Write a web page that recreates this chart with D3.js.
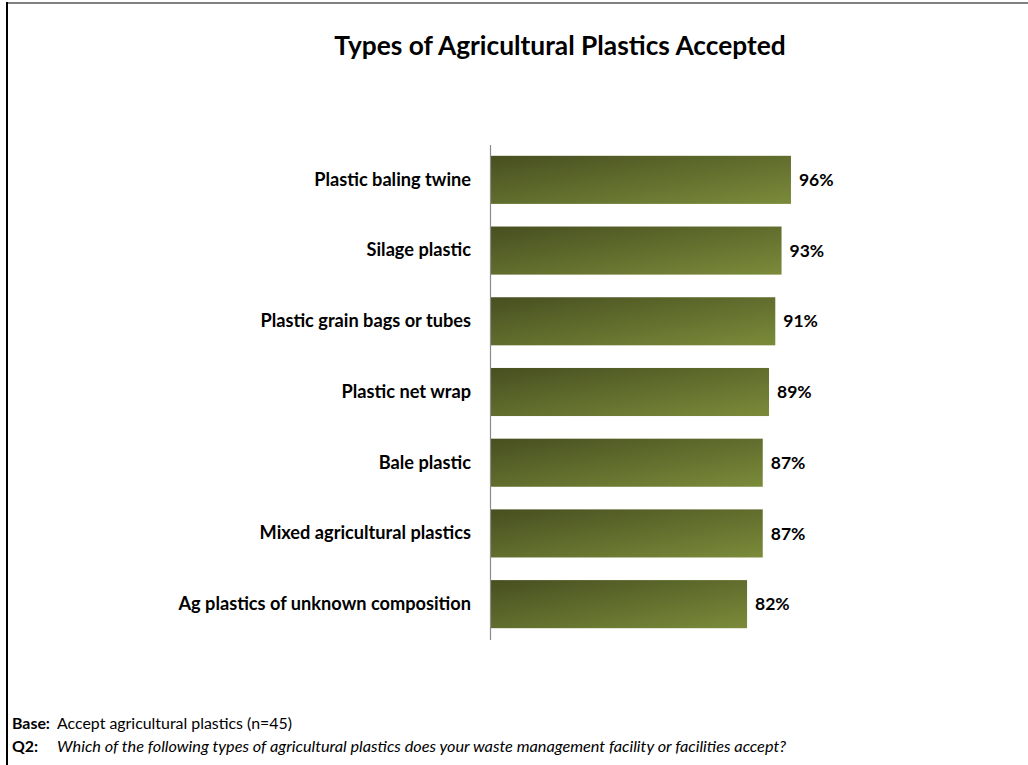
<!DOCTYPE html>
<html>
<head>
<meta charset="utf-8">
<script src="https://cdn.jsdelivr.net/npm/d3@7/dist/d3.min.js"></script>
<style>
  html, body { margin: 0; padding: 0; background: #fff; }
  svg { display: block; }
  text { font-family: Lato, "Open Sans", sans-serif; fill: #000; }
</style>
</head>
<body>
<svg id="chart" width="1028" height="765"></svg>
<script>
// Plastic types accepted at facilities (share of respondents, %)
const categories = [
  "Plastic baling twine",
  "Silage plastic",
  "Plastic grain bags or tubes",
  "Plastic net wrap",
  "Bale plastic",
  "Mixed agricultural plastics",
  "Ag plastics of unknown composition"
];
const values = [96, 93, 91, 89, 87, 87, 82];
const valueLabels = ["96%", "93%", "91%", "89%", "87%", "87%", "82%"];

const svg = d3.select("#chart");
const W = 1028, H = 765;

// Frame lines
svg.append("line").attr("x1", 6).attr("x2", W).attr("y1", 3).attr("y2", 3)
  .attr("stroke", "#808080").attr("stroke-width", 2);
svg.append("line").attr("x1", 7).attr("x2", 7).attr("y1", 2).attr("y2", H)
  .attr("stroke", "#000").attr("stroke-width", 2);

// Title
svg.append("text")
  .attr("x", 560).attr("y", 55)
  .attr("text-anchor", "middle")
  .style("font-size", "26.3px").style("font-weight", "bold")
  .text("Types of Agricultural Plastics Accepted");

// Gradient fill for bars
const defs = svg.append("defs");
const grad = defs.append("linearGradient")
  .attr("id", "barFill")
  .attr("x1", "0").attr("y1", "0").attr("x2", "1").attr("y2", "1");
grad.append("stop").attr("offset", "0%").attr("stop-color", "#474f20");
grad.append("stop").attr("offset", "100%").attr("stop-color", "#7b8b3a");

const x0 = 490;
const x = d3.scaleLinear().domain([0, 100]).range([x0, x0 + 313.5]);
const y = d3.scaleBand().domain(categories).range([144.5, 639.5]).paddingInner(0.32).paddingOuter(0.16);

const g = svg.append("g");

g.selectAll("rect.bar")
  .data(values)
  .join("rect")
  .attr("class", "bar")
  .attr("x", x(0))
  .attr("y", (d, i) => y(categories[i]))
  .attr("width", d => x(d) - x(0))
  .attr("height", y.bandwidth())
  .attr("fill", "url(#barFill)");

// Category axis
const axis = d3.axisLeft(y).tickSize(0).tickPadding(19);
const ag = g.append("g").attr("transform", `translate(${x0},0)`).call(axis);
ag.select(".domain").attr("stroke", "#8c8c8c").attr("stroke-width", 1.2);
ag.selectAll("text")
  .style("font-family", "Lato, 'Open Sans', sans-serif")
  .style("font-size", "18.2px").style("font-weight", "bold").attr("fill", "#000");

// Value labels
g.selectAll("text.val")
  .data(values)
  .join("text")
  .attr("class", "val")
  .attr("x", d => x(d) + 8)
  .attr("y", (d, i) => y(categories[i]) + y.bandwidth() / 2)
  .attr("dy", "0.35em")
  .style("font-size", "17.5px").style("font-weight", "bold")
  .text((d, i) => valueLabels[i]);

// Footer notes
const f1 = svg.append("text").attr("x", 12).attr("y", 729).style("font-size", "15.9px");
f1.append("tspan").style("font-weight", "bold").text("Base:");
f1.append("tspan").attr("x", 57).text("Accept agricultural plastics (n=45)");

const f2 = svg.append("text").attr("x", 12).attr("y", 752).style("font-size", "15.9px");
f2.append("tspan").style("font-weight", "bold").text("Q2:");
f2.append("tspan").attr("x", 57).style("font-style", "italic").style("font-size", "16.3px")
  .text("Which of the following types of agricultural plastics does your waste management facility or facilities accept?");
</script>
</body>
</html>
